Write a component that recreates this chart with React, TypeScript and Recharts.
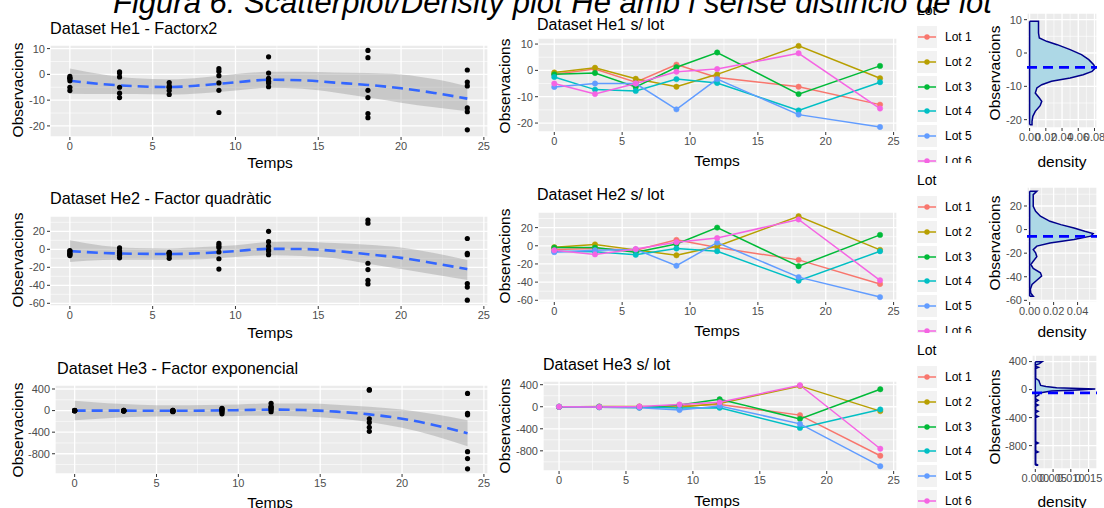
import React from 'react';
import {
  ComposedChart,
  LineChart,
  Line,
  Scatter,
  Area,
  XAxis,
  YAxis,
  CartesianGrid,
  ReferenceLine,
} from 'recharts';

const FONT = '"Liberation Sans", Arial, Helvetica, sans-serif';

const LOTS = ['Lot 1', 'Lot 2', 'Lot 3', 'Lot 4', 'Lot 5', 'Lot 6'];
const LOT_COLORS = ['#F8766D', '#B79F00', '#00BA38', '#00BFC4', '#619CFF', '#F564E3'];

const TEMPS = [0, 3, 6, 9, 12, 18, 24];
const TEMPS_TICKS = [0, 5, 10, 15, 20, 25];
const TEMPS_MINOR = [2.5, 7.5, 12.5, 17.5, 22.5];
const X_DOMAIN = [-1.2, 25.25];

// observacions per lot (una fila per lot, una columna per temps)
const HE1_LOTS = [
  [-1.5, 0.5, -4.5, 2.2, -2.7, -6.2, -13],
  [-0.8, 1.0, -3.2, -6.2, -1.5, 9.3, -3],
  [-1.5, -1.0, -6.3, 1.2, 6.8, -9, 1.7],
  [-2.5, -7.3, -7.8, -3.3, -4.8, -15.2, -4.5],
  [-6.3, -5.0, -5.0, -14.8, -3.3, -16.8, -21.5],
  [-5.0, -9.0, -5.0, -0.5, 0.5, 6.5, -14.5],
];
const HE2_LOTS = [
  [-4, -3, -5, 6.5, -2, -15.5, -42],
  [-1.5, 1.5, -4.5, -10.5, -0.5, 32.5, -4.5],
  [-2, -2, -7, 2, 20, -22.5, 12],
  [-6, -6.5, -10, -3, -6, -38.5, -6],
  [-7, -5, -4, -22, 3.5, -34.5, -56.5],
  [-5, -9.5, -3.5, 4, 8.5, 29, -38],
];
const HE3_LOTS = [
  [2, -5, -10, 15, 40, -152, -890],
  [-3, 3, 5, -10, 60, 378, -79],
  [0, -8, -15, 30, 135, -220, 317],
  [1, 2, -6, -25, -20, -384, -49],
  [-2, -10, -20, -60, 15, -311, -1079],
  [-1, -3, 4, 40, 80, 390, -762],
];

// corba suavitzada (loess) i interval de confiança
const SMOOTH_T = [0, 2, 4, 6, 8, 10, 12, 14, 16, 18, 20, 22, 24];
const HE1_FIT = [-2.5, -3.8, -4.6, -4.9, -4.2, -3.1, -2.1, -2.3, -3.2, -4.1, -5.4, -7.2, -9.4];
const HE1_LO = [-7.5, -7.6, -7.6, -7.8, -7.3, -6.3, -5.2, -5.6, -7.0, -9.0, -11.0, -12.8, -14.3];
const HE1_HI = [2.3, 0.0, -1.5, -1.9, -1.2, 0.1, 1.0, 1.0, 0.7, 0.5, 0.0, -1.8, -4.6];
const HE2_FIT = [-2, -4, -5, -5.2, -4.3, -2, 0.5, 0.3, -1.8, -5.5, -9.5, -15.5, -22];
const HE2_LO = [-14, -12, -11.5, -11.5, -11, -8.5, -6.5, -7.5, -10, -16, -22, -28, -34];
const HE2_HI = [10, 4, 1.5, 1, 2.5, 4.5, 8, 8.5, 7, 5, 2, -4, -12];
const HE3_FIT = [0, 0, -2, -3, 0, 8, 18, 10, -20, -70, -150, -270, -420];
const HE3_LO = [-180, -140, -115, -105, -105, -100, -95, -110, -145, -210, -320, -470, -660];
const HE3_HI = [180, 135, 110, 100, 105, 115, 130, 130, 110, 70, 20, -70, -180];

// densitats (observació, densitat)
const HE1_DENS_OBS = [9.5, 9.5, 6, 4.5, 3.5, 2.5, 1, -0.5, -2, -3.5, -4.5, -5.5, -6.5, -7.5, -8.5, -9.5, -10.5, -12, -13.5, -14.5, -15.8, -17.5, -19, -20.5, -21.5, -21.5];
const HE1_DENS = [0, 0.011, 0.011, 0.012, 0.021, 0.034, 0.05, 0.064, 0.073, 0.079, 0.081, 0.077, 0.066, 0.05, 0.027, 0.015, 0.009, 0.007, 0.012, 0.015, 0.013, 0.007, 0.004, 0.003, 0.003, 0];
const HE2_DENS_OBS = [32.5, 32.5, 29.6, 25, 19.7, 15.5, 11.3, 7, 4.2, 1.4, -1.4, -3.4, -5.6, -8.5, -11.3, -14, -17, -19.7, -23, -26.8, -29.6, -33, -36.6, -39.4, -43, -46.5, -50.7, -54, -56.5, -56.5];
const HE2_DENS = [0, 0.006, 0.003, 0.003, 0.003, 0.005, 0.009, 0.017, 0.026, 0.037, 0.046, 0.053, 0.051, 0.037, 0.017, 0.006, 0.003, 0.005, 0.006, 0.003, 0.001, 0.003, 0.009, 0.01, 0.006, 0.002, 0.0006, 0.001, 0.003, 0];
const HE3_DENS_OBS = [396, 396, 370, 350, 330, 317, 300, 160, 130, 100, 60, 45, 25, 8, -5, -20, -40, -49, -65, -79, -100, -135, -152, -175, -205, -220, -240, -295, -311, -330, -368, -384, -400, -745, -762, -780, -873, -890, -907, -1062, -1079, -1079];
const HE3_DENS = [0, 0.0019, 0.0012, 0.0001, 0.0002, 0.0009, 0.0001, 0.0001, 0.001, 0.0012, 0.0015, 0.003, 0.006, 0.0169, 0.012, 0.0045, 0.002, 0.0012, 0.001, 0.001, 0.0001, 0.0001, 0.0008, 0.0001, 0.0001, 0.0008, 0.0001, 0.0001, 0.0008, 0.0001, 0.0001, 0.0008, 0.0001, 0.0001, 0.0008, 0.0001, 0.0001, 0.0008, 0.0001, 0.0001, 0.0008, 0];
const HE_MEANS = [-4.3, -5.8, -48];

const TICK = { fontSize: 11, fill: '#4D4D4D', fontFamily: FONT };

type Box = { x0: number; y0: number; x1: number; y1: number };

function frame(b: Box, yw: number, right: number) {
  const top = 6;
  const xh = 22;
  return {
    left: b.x0 - yw,
    top: b.y0 - top,
    width: b.x1 - b.x0 + yw + right,
    height: b.y1 - b.y0 + top + xh,
    margin: { top, right, bottom: 0, left: 0 },
    xh,
  };
}

function Txt({ x, y, size, children, center, rotate, italic }: any) {
  let transform = 'translateY(-50%)';
  if (center) transform = 'translate(-50%, -50%)';
  if (rotate) transform = 'translate(-50%, -50%) rotate(-90deg)';
  return (
    <div
      style={{
        position: 'absolute',
        left: x,
        top: y,
        fontSize: size,
        lineHeight: 1,
        whiteSpace: 'nowrap',
        transform,
        color: '#000',
        fontStyle: italic ? 'italic' : 'normal',
        zIndex: 3,
      }}
    >
      {children}
    </div>
  );
}

const blackDot = (p: any) => <circle cx={p.cx} cy={p.cy} r={2.6} fill="#000000" />;

function SmoothPanel({ box, lots, fit, lo, hi, yDomain, yTicks, yMinor }: any) {
  const f = frame(box, 40, 10);
  const points = lots.flatMap((vals: number[]) => vals.map((v, i) => ({ t: TEMPS[i], v })));
  const band = SMOOTH_T.map((t, i) => ({ t, fit: fit[i], band: [lo[i], hi[i]] }));
  return (
    <div style={{ position: 'absolute', left: f.left, top: f.top }}>
      <ComposedChart width={f.width} height={f.height} data={band} margin={f.margin}>
        <CartesianGrid fill="#EBEBEB" stroke="#FFFFFF" strokeWidth={0.6} horizontalValues={yMinor} verticalValues={TEMPS_MINOR} />
        <CartesianGrid stroke="#FFFFFF" strokeWidth={1.3} />
        <XAxis type="number" dataKey="t" domain={X_DOMAIN} ticks={TEMPS_TICKS} allowDataOverflow height={f.xh}
          axisLine={false} tickSize={3} tickLine={{ stroke: '#333333' }} tick={TICK} interval={0} />
        <YAxis type="number" dataKey="v" domain={yDomain} ticks={yTicks} allowDataOverflow width={40}
          axisLine={false} tickSize={3} tickLine={{ stroke: '#333333' }} tick={TICK} interval={0} />
        <Scatter data={points} shape={blackDot} isAnimationActive={false} />
        <Area dataKey="band" type="monotone" fill="#999999" fillOpacity={0.42} stroke="none" isAnimationActive={false} />
        <Line dataKey="fit" type="monotone" stroke="#3366FF" strokeWidth={2.6} strokeDasharray="11 6" dot={false} activeDot={false} isAnimationActive={false} />
      </ComposedChart>
    </div>
  );
}

function LotPanel({ box, lots, yDomain, yTicks, yMinor }: any) {
  const f = frame(box, 40, 10);
  const rows = TEMPS.map((t, i) => {
    const r: any = { t };
    lots.forEach((vals: number[], k: number) => {
      r['lot' + k] = vals[i];
    });
    return r;
  });
  return (
    <div style={{ position: 'absolute', left: f.left, top: f.top }}>
      <LineChart width={f.width} height={f.height} data={rows} margin={f.margin}>
        <CartesianGrid fill="#EBEBEB" stroke="#FFFFFF" strokeWidth={0.6} horizontalValues={yMinor} verticalValues={TEMPS_MINOR} />
        <CartesianGrid stroke="#FFFFFF" strokeWidth={1.3} />
        <XAxis type="number" dataKey="t" domain={X_DOMAIN} ticks={TEMPS_TICKS} allowDataOverflow height={f.xh}
          axisLine={false} tickSize={3} tickLine={{ stroke: '#333333' }} tick={TICK} interval={0} />
        <YAxis type="number" domain={yDomain} ticks={yTicks} allowDataOverflow width={40}
          axisLine={false} tickSize={3} tickLine={{ stroke: '#333333' }} tick={TICK} interval={0} />
        {LOTS.map((name, k) => (
          <Line key={name} dataKey={'lot' + k} name={name} type="linear" stroke={LOT_COLORS[k]} strokeWidth={1.5}
            dot={{ r: 2.7, fill: LOT_COLORS[k], stroke: LOT_COLORS[k], strokeWidth: 0.5 }} activeDot={false} isAnimationActive={false} />
        ))}
      </LineChart>
    </div>
  );
}

function DensityPanel({ box, obs, dens, mean, yDomain, yTicks, yMinor, xDomain, xTicks, xMinor, digits }: any) {
  const f = frame(box, 40, 14);
  const rows = obs.map((v: number, i: number) => ({ v, d: dens[i] }));
  const top = Math.max(...obs);
  const bottom = Math.min(...obs);
  return (
    <div style={{ position: 'absolute', left: f.left, top: f.top }}>
      <ComposedChart layout="vertical" width={f.width} height={f.height} data={rows} margin={f.margin}>
        <CartesianGrid fill="#EBEBEB" stroke="#FFFFFF" strokeWidth={0.6} horizontalValues={yMinor} verticalValues={xMinor} />
        <CartesianGrid stroke="#FFFFFF" strokeWidth={1.3} />
        <XAxis type="number" domain={xDomain} ticks={xTicks} allowDataOverflow height={f.xh}
          axisLine={false} tickSize={3} tickLine={{ stroke: '#333333' }} tick={TICK} interval={0}
          tickFormatter={(v: number) => v.toFixed(digits)} />
        <YAxis type="number" dataKey="v" domain={yDomain} ticks={yTicks} allowDataOverflow width={40} reversed
          axisLine={false} tickSize={3} tickLine={{ stroke: '#333333' }} tick={TICK} interval={0} />
        <Area dataKey="d" type="linear" baseValue={0} fill="#ADD8E6" fillOpacity={1} stroke="#00008B" strokeWidth={1.5} isAnimationActive={false} />
        <ReferenceLine segment={[{ x: 0, y: bottom }, { x: 0, y: top }]} stroke="#00008B" strokeWidth={1.5} />
        <ReferenceLine y={mean} stroke="#0000FF" strokeWidth={2.8} strokeDasharray="10 6" />
      </ComposedChart>
    </div>
  );
}

function LotLegend({ clip }: { clip: number }) {
  return (
    <div style={{ position: 'absolute', left: 905, top: 0, width: 85, height: clip, overflow: 'hidden' }}>
      <Txt x={12} y={10} size={14}>Lot</Txt>
      {LOTS.map((name, i) => {
        const cy = 37.3 + i * 24.7;
        return (
          <React.Fragment key={name}>
            <svg style={{ position: 'absolute', left: 12, top: cy - 11 }} width={20} height={22}>
              <rect x={0} y={0} width={20} height={22} fill="#F2F2F2" />
              <line x1={1} y1={11} x2={19} y2={11} stroke={LOT_COLORS[i]} strokeWidth={1.5} />
              <circle cx={10} cy={11} r={2.7} fill={LOT_COLORS[i]} />
            </svg>
            <Txt x={40} y={cy} size={12}>{name}</Txt>
          </React.Fragment>
        );
      })}
    </div>
  );
}

const ROWS = [
  {
    top: 0, clip: 163, data: 'He1', title: 'Dataset He1 - Factorx2', lots: HE1_LOTS, fit: HE1_FIT, lo: HE1_LO, hi: HE1_HI,
    yTicks: [-20, -10, 0, 10], yMinor: [-15, -5, 5],
    sBox: { x0: 50, y0: 45, x1: 488, y1: 137 }, sDomain: [-24.3, 11.4], sTitleX: 50,
    mBox: { x0: 538, y0: 38, x1: 897, y1: 132 }, mDomain: [-23.4, 12.3], mTitleX: 537,
    dBox: { x0: 1027, y0: 13, x1: 1097, y1: 128 }, dDomain: [-22.5, 12],
    dens: HE1_DENS, densObs: HE1_DENS_OBS, xDomain: [-0.0032, 0.0831], xTicks: [0, 0.02, 0.04, 0.06, 0.08], xMinor: [0.01, 0.03, 0.05, 0.07], digits: 2,
  },
  {
    top: 170, clip: 163, data: 'He2', title: 'Dataset He2 - Factor quadràtic', lots: HE2_LOTS, fit: HE2_FIT, lo: HE2_LO, hi: HE2_HI,
    yTicks: [-60, -40, -20, 0, 20], yMinor: [-50, -30, -10, 10, 30],
    sBox: { x0: 50, y0: 46, x1: 488, y1: 136 }, sDomain: [-63, 37], sTitleX: 50,
    mBox: { x0: 538, y0: 42, x1: 897, y1: 132 }, mDomain: [-61.9, 37.2], mTitleX: 537,
    dBox: { x0: 1027, y0: 17, x1: 1097, y1: 132 }, dDomain: [-61.4, 36.1],
    dens: HE2_DENS, densObs: HE2_DENS_OBS, xDomain: [-0.0022, 0.0562], xTicks: [0, 0.02, 0.04], xMinor: [0.01, 0.03, 0.05], digits: 2,
  },
  {
    top: 340, clip: 168, data: 'He3', title: 'Dataset He3 - Factor exponencial', lots: HE3_LOTS, fit: HE3_FIT, lo: HE3_LO, hi: HE3_HI,
    yTicks: [-800, -400, 0, 400], yMinor: [-1000, -600, -200, 200],
    sBox: { x0: 55, y0: 45, x1: 488, y1: 134 }, sDomain: [-1175, 474], sTitleX: 57,
    mBox: { x0: 543, y0: 41, x1: 897, y1: 131 }, mDomain: [-1166, 467], mTitleX: 543,
    dBox: { x0: 1032, y0: 15, x1: 1097, y1: 129 }, dDomain: [-1134, 494],
    dens: HE3_DENS, densObs: HE3_DENS_OBS, xDomain: [-0.00093, 0.01737], xTicks: [0, 0.005, 0.01, 0.015], xMinor: [0.0025, 0.0075, 0.0125], digits: 3,
  },
];

export default function App() {
  return (
    <div style={{ position: 'absolute', left: 0, top: 0, width: 1104, height: 508, overflow: 'hidden', background: '#FFFFFF', fontFamily: FONT }}>
      {ROWS.map((row, r) => (
        <div key={row.data} style={{ position: 'absolute', left: 0, top: row.top, width: 1104, height: 170 }}>
          <SmoothPanel box={row.sBox} lots={row.lots} fit={row.fit} lo={row.lo} hi={row.hi}
            yDomain={row.sDomain} yTicks={row.yTicks} yMinor={row.yMinor} />
          <LotPanel box={row.mBox} lots={row.lots} yDomain={row.mDomain} yTicks={row.yTicks} yMinor={row.yMinor} />
          <DensityPanel box={row.dBox} obs={row.densObs} dens={row.dens} mean={HE_MEANS[r]}
            yDomain={row.dDomain} yTicks={row.yTicks} yMinor={row.yMinor}
            xDomain={row.xDomain} xTicks={row.xTicks} xMinor={row.xMinor} digits={row.digits} />
          <LotLegend clip={row.clip} />

          <Txt x={row.sTitleX} y={27.5} size={16.2}>{row.title}</Txt>
          <Txt x={row.mTitleX} y={24.5} size={16}>{`Dataset ${row.data} s/ lot`}</Txt>

          <Txt x={18} y={90} size={15.5} rotate>Observacions</Txt>
          <Txt x={505} y={86} size={15.5} rotate>Observacions</Txt>
          <Txt x={995} y={r === 2 ? 77 : 73} size={15.5} rotate>Observacions</Txt>

          <Txt x={270} y={163} size={15.5} center>Temps</Txt>
          <Txt x={717} y={161} size={15.5} center>Temps</Txt>
          <Txt x={1062} y={162} size={15.5} center>density</Txt>
        </div>
      ))}
      <div style={{ position: 'absolute', left: 0, top: 0, width: 1104, height: 7, background: '#FFFFFF', zIndex: 5 }} />
      <div style={{ position: 'absolute', left: 113, top: -13, fontSize: 31, lineHeight: 1, fontStyle: 'italic', whiteSpace: 'nowrap', zIndex: 6 }}>
        Figura 6: Scatterplot/Density plot He amb i sense distinció de lot
      </div>
    </div>
  );
}
